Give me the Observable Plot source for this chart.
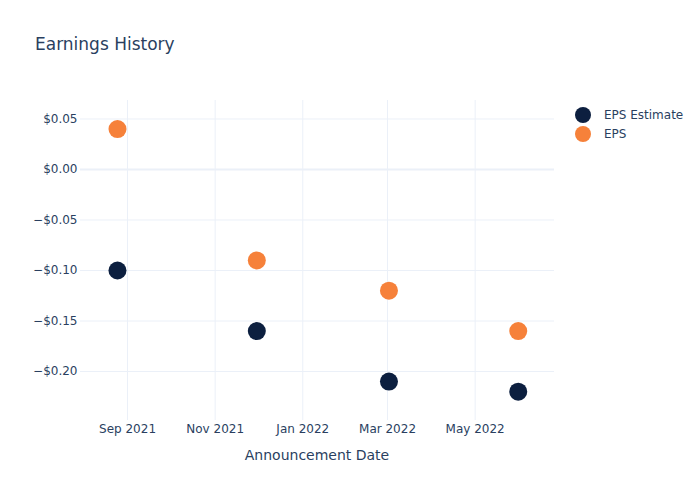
<!DOCTYPE html>
<html>
<head>
<meta charset="utf-8">
<script src="https://cdn.jsdelivr.net/npm/d3@7"></script>
<script src="https://cdn.jsdelivr.net/npm/@observablehq/plot@0.6"></script>
<style>
  body { margin: 0; background: #fff; }
  #wrap { position: relative; width: 700px; height: 500px; font-family: "DejaVu Sans", sans-serif; color: #2a3f5f; }
  #title { position: absolute; left: 35px; top: 34px; font-size: 17px; white-space: nowrap; }
  #xlabel { position: absolute; left: 0; width: 634px; text-align: center; top: 447px; font-size: 14px; }
  #legend { position: absolute; left: 575px; top: 105px; font-size: 12px; }
  .item { display: flex; align-items: center; height: 19px; }
  .sw { width: 16px; height: 16px; border-radius: 50%; margin-right: 13px; }
</style>
</head>
<body>
<div id="wrap">
  <div id="title">Earnings History</div>
  <div id="xlabel">Announcement Date</div>
  <div id="legend"></div>
</div>
<script>
const dates = ["2021-08-25", "2021-11-30", "2022-03-02", "2022-05-31"];
const epsEstimate = [-0.10, -0.16, -0.21, -0.22];
const eps = [0.04, -0.09, -0.12, -0.16];
const seriesNames = ["EPS Estimate", "EPS"];
const seriesColors = ["#0c1f3f", "#f6813a"];
const yTicks = [-0.20, -0.15, -0.10, -0.05, 0.00, 0.05];

const rows = [];
dates.forEach((d, i) => {
  rows.push({date: new Date(d), value: epsEstimate[i], series: seriesNames[0]});
  rows.push({date: new Date(d), value: eps[i], series: seriesNames[1]});
});

const fmtY = d => (d < 0 ? "\u2212" : "") + "$" + Math.abs(d).toFixed(2);

const chart = Plot.plot({
  width: 700,
  height: 500,
  marginLeft: 80,
  marginRight: 146,
  marginTop: 100,
  marginBottom: 80,
  style: {color: "#2a3f5f", fontFamily: "DejaVu Sans, sans-serif", fontSize: "12px", background: "transparent"},
  x: {type: "utc", domain: [new Date("2021-07-30T06:00Z"), new Date("2022-06-25T06:00Z")]},
  y: {domain: [-0.2485, 0.0683]},
  color: {domain: seriesNames, range: seriesColors},
  marks: [
    Plot.gridY(yTicks, {stroke: "#ebf0f8", strokeOpacity: 1}),
    Plot.gridX({ticks: d3.utcMonth.every(2), stroke: "#ebf0f8", strokeOpacity: 1}),
    Plot.ruleY([0], {stroke: "#ebf0f8", strokeWidth: 2}),
    Plot.axisY(yTicks, {tickSize: 0, tickPadding: 3, tickFormat: fmtY, label: null}),
    Plot.axisX({ticks: d3.utcMonth.every(2), tickSize: 0, tickPadding: 4, tickFormat: d3.utcFormat("%b %Y"), label: null}),
    Plot.dot(rows, {x: "date", y: "value", fill: "series", r: 9})
  ]
});
chart.style.position = "absolute";
chart.style.left = "0";
chart.style.top = "0";
document.getElementById("wrap").prepend(chart);

const legend = document.getElementById("legend");
seriesNames.forEach((n, i) => {
  const it = document.createElement("div");
  it.className = "item";
  const sw = document.createElement("div");
  sw.className = "sw";
  sw.style.background = seriesColors[i];
  const t = document.createElement("span");
  t.textContent = n;
  it.appendChild(sw);
  it.appendChild(t);
  legend.appendChild(it);
});
</script>
</body>
</html>
